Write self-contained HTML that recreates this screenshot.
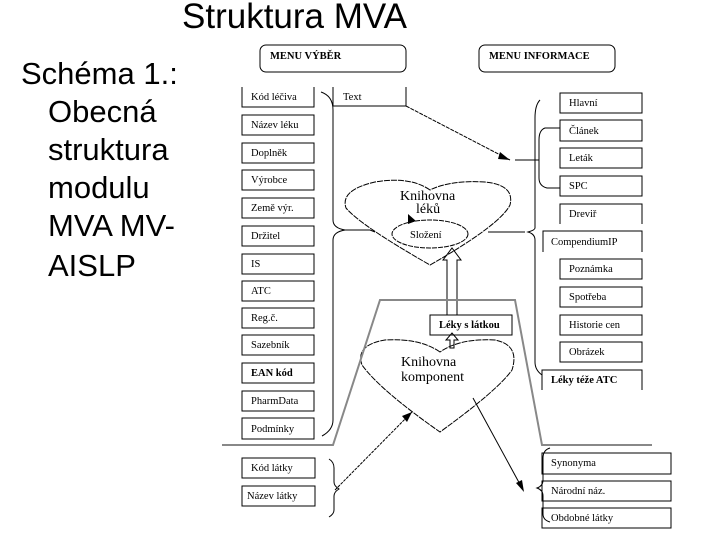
<!DOCTYPE html>
<html><head><meta charset="utf-8"><style>
body{margin:0;background:#fff}
svg{display:block}
.t{font-family:"Liberation Serif",serif;font-size:10.5px;fill:#000}
.s{font-family:"Liberation Sans",sans-serif;fill:#000}
</style></head><body>
<svg width="720" height="540" viewBox="0 0 720 540" xmlns="http://www.w3.org/2000/svg">
<rect width="720" height="540" fill="#fff"/>
<text class="s" x="182" y="28" font-size="35">Struktura MVA</text>
<g class="s" font-size="31">
<text x="21" y="84">Schéma 1.:</text>
<text x="48" y="122">Obecná</text>
<text x="48" y="160">struktura</text>
<text x="48" y="198">modulu</text>
<text x="48" y="236">MVA MV-</text>
<text x="48" y="276">AISLP</text>
</g>
<g fill="none" stroke="#000" stroke-width="1">
<rect x="260" y="45" width="146" height="27" rx="6"/>
<rect x="479" y="45" width="136" height="27" rx="6"/>
<path d="M242 87V107H314V87"/>
<rect x="242" y="115" width="72" height="20"/>
<rect x="242" y="143" width="72" height="20"/>
<rect x="242" y="170" width="72" height="20"/>
<rect x="242" y="198" width="72" height="20"/>
<rect x="242" y="226" width="72" height="20"/>
<rect x="242" y="254" width="72" height="20"/>
<rect x="242" y="281" width="72" height="20"/>
<rect x="242" y="308" width="72" height="20"/>
<rect x="242" y="335" width="72" height="20"/>
<rect x="242" y="363" width="72" height="20"/>
<rect x="242" y="391" width="72" height="20"/>
<rect x="242" y="418" width="72" height="21"/>
<path d="M333 87V106H406V87"/>
<rect x="560" y="93" width="82" height="20"/>
<rect x="560" y="120" width="82" height="21"/>
<rect x="560" y="148" width="82" height="20"/>
<rect x="560" y="176" width="82" height="20"/>
<path d="M560 224V204H642V224"/>
<path d="M543 252V231H642V252"/>
<rect x="560" y="259" width="82" height="20"/>
<rect x="560" y="287" width="82" height="20"/>
<rect x="560" y="315" width="82" height="20"/>
<rect x="560" y="342" width="82" height="20"/>
<path d="M542 390V370H642V390"/>
<rect x="430" y="315" width="82" height="20"/>
<rect x="242" y="458" width="73" height="20"/>
<rect x="242" y="486" width="73" height="20"/>
<rect x="542" y="453" width="129" height="21"/>
<rect x="542" y="481" width="129" height="20"/>
<rect x="542" y="508" width="129" height="20"/>
<path d="M321 92Q333 96 333 110V220Q333 228 345 230Q333 232 333 240V420Q333 430 322 436"/>
<path d="M345 230H370L375 232"/>
<path d="M540 100Q535 105 535 118V228Q535 230 528 232Q535 234 535 240V362Q535 370 542 375"/>
<path d="M488 232H515L525 232"/>
<path d="M560 128H545Q539 130 539 140V178Q539 186 547 188H560"/>
<path d="M515 160H539"/>
<path d="M550 448Q543 450 543 458V480Q543 486 537 488Q543 490 543 496V514Q543 520 550 522"/>
<path d="M329 459Q334 462 334 468V482Q334 486 339 489Q334 492 334 496V510Q334 514 329 517"/>
<path d="M430 190Q410 176 375 182Q340 190 346 208Q360 225 430 265Q500 225 510 205Q515 185 485 182Q450 180 430 190Z" stroke-dasharray="6,1"/>
<path d="M440 352Q420 338 385 340Q355 345 362 365Q380 390 440 432Q498 390 512 370Q520 345 495 340Q460 338 440 352Z" stroke-dasharray="6,1"/>
<ellipse cx="430" cy="234" rx="38" ry="14" stroke-dasharray="5,1"/>
<path d="M447 315V260H443L452 248L461 260H457V315"/>
<path d="M450 348V340H446L452 333L458 340H454V348Z"/>
<path d="M406 106L510 160" stroke-dasharray="4,1"/>
<path d="M335 490L412 412" stroke-dasharray="3,1"/>
<path d="M473 398L522 488"/>
</g>
<g fill="#000">
<polygon points="510,160 500,152 498,159"/>
<polygon points="412,412 402,416 407,422"/>
<polygon points="524,492 516,483 522,480"/>
<polygon points="408,214 408,224 416,221"/>
</g>
<path d="M222 445H333L380 300H515L542 445H652" fill="none" stroke="#888" stroke-width="2"/>
<g class="t">
<text x="270" y="59" font-weight="bold">MENU VÝBĚR</text>
<text x="489" y="59" font-weight="bold">MENU INFORMACE</text>
<text x="251" y="100">Kód léčiva</text>
<text x="251" y="128">Název léku</text>
<text x="251" y="156">Doplněk</text>
<text x="251" y="183">Výrobce</text>
<text x="251" y="211">Země výr.</text>
<text x="251" y="239">Držitel</text>
<text x="251" y="267">IS</text>
<text x="251" y="294">ATC</text>
<text x="251" y="321">Reg.č.</text>
<text x="251" y="348">Sazebník</text>
<text x="251" y="376" font-weight="bold">EAN kód</text>
<text x="251" y="404">PharmData</text>
<text x="251" y="432">Podmínky</text>
<text x="343" y="100">Text</text>
<text x="569" y="106">Hlavní</text>
<text x="569" y="134">Článek</text>
<text x="569" y="161">Leták</text>
<text x="569" y="189">SPC</text>
<text x="569" y="217">Dreviř</text>
<text x="551" y="245">CompendiumIP</text>
<text x="569" y="272">Poznámka</text>
<text x="569" y="300">Spotřeba</text>
<text x="569" y="328">Historie cen</text>
<text x="569" y="355">Obrázek</text>
<text x="551" y="383" font-weight="bold">Léky téže ATC</text>
<text x="439" y="328" font-weight="bold">Léky s látkou</text>
<text x="251" y="471">Kód látky</text>
<text x="247" y="499">Název látky</text>
<text x="551" y="466">Synonyma</text>
<text x="551" y="494">Národní náz.</text>
<text x="551" y="521">Obdobné látky</text>
<text x="410" y="238">Složení</text>
<text x="400" y="200" font-size="14">Knihovna</text>
<text x="416" y="213" font-size="14">léků</text>
<text x="401" y="366" font-size="14">Knihovna</text>
<text x="401" y="381" font-size="14">komponent</text>
</g>
</svg>
</body></html>
